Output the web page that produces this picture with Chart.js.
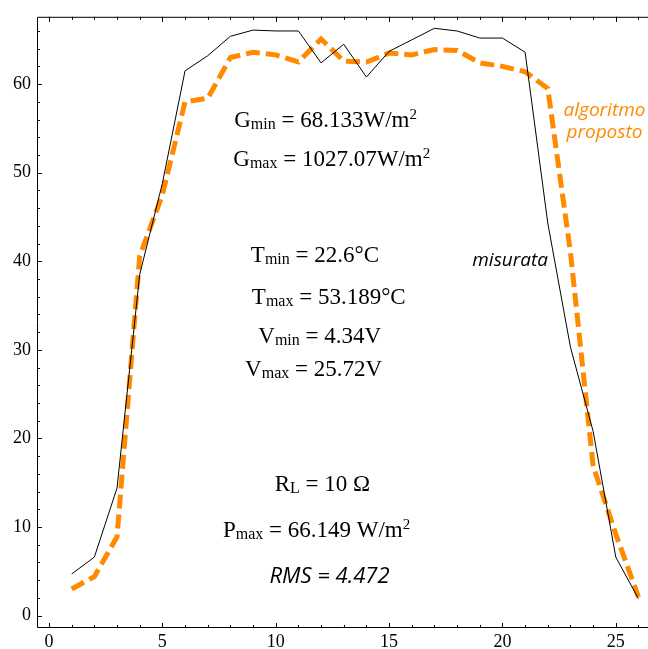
<!DOCTYPE html>
<html>
<head>
<meta charset="utf-8">
<script src="https://cdn.jsdelivr.net/npm/chart.js@4.4.1/dist/chart.umd.min.js"></script>
<style>
  html, body { margin: 0; padding: 0; background: #fff; }
  #wrap { position: relative; width: 648px; height: 649px; }
</style>
</head>
<body>
<div id="wrap"><canvas id="chart"></canvas></div>
<script>
// hourly samples: measured power vs. the proposed algorithm's estimate
const hours = [1, 2, 3, 4, 5, 6, 7, 8, 9, 10, 11, 12, 13, 14, 15, 16, 17, 18, 19, 20, 21, 22, 23, 24, 25, 26];
const misurata = [4.7, 6.6, 14.4, 38.5, 48.8, 61.5, 63.2, 65.4, 66.1, 66.0, 66.0, 62.4, 64.5, 60.8, 63.7, 65.0, 66.3, 66.0, 65.2, 65.2, 63.6, 44.3, 30.3, 20.8, 6.6, 1.9];
const proposto = [3.0, 4.4, 8.9, 40.6, 47.5, 58.0, 58.4, 63.0, 63.6, 63.3, 62.5, 65.1, 62.6, 62.5, 63.5, 63.3, 63.9, 63.8, 62.4, 62.0, 61.4, 59.5, 41.0, 16.9, 9.2, 2.1];

const xTicks = [0, 5, 10, 15, 20, 25];
const yTicks = [0, 10, 20, 30, 40, 50, 60];

const ORANGE = '#ff8a00';
const SERIF = '"Liberation Serif", "Times New Roman", serif';
const SANS = '"Open Sans", "Noto Sans", sans-serif';

const big = '23px ' + SERIF;
const small = '16px ' + SERIF;
const sup = '15px ' + SERIF;

// text blocks drawn inside the plot, anchored in data units (centre x, baseline y)
const notes = [
  { x: 12.2, y: 55.2, runs: [['G', big], ['min', small, 2], [' = 68.133W/m', big], ['2', sup, -8]] },
  { x: 12.47, y: 50.7, runs: [['G', big], ['max', small, 2], [' = 1027.07W/m', big], ['2', sup, -8]] },
  { x: 11.73, y: 39.9, runs: [['T', big], ['min', small, 2], [' = 22.6°C', big]] },
  { x: 12.34, y: 35.2, runs: [['T', big], ['max', small, 2], [' = 53.189°C', big]] },
  { x: 11.94, y: 30.75, runs: [['V', big], ['min', small, 2], [' = 4.34V', big]] },
  { x: 11.67, y: 27.0, runs: [['V', big], ['max', small, 2], [' = 25.72V', big]] },
  { x: 12.06, y: 14.05, runs: [['R', big], ['L', small, 2], [' = 10 Ω', big]] },
  { x: 11.8, y: 8.9, runs: [['P', big], ['max', small, 2], [' = 66.149 W/m', big], ['2', sup, -8]] },
  { x: 12.37, y: 3.67, runs: [['RMS = 4.472', 'italic 22px ' + SANS]] },
  { x: 20.34, y: 39.5, runs: [['misurata', 'italic 19px ' + SANS]] },
  { x: 24.5, y: 56.4, color: ORANGE, runs: [['algoritmo', 'italic 19px ' + SANS]] },
  { x: 24.5, y: 53.9, color: ORANGE, runs: [['proposto', 'italic 19px ' + SANS]] }
];

function drawRuns(ctx, runs, cx, cy) {
  let total = 0;
  const widths = runs.map(([t, font]) => {
    ctx.font = font;
    const w = ctx.measureText(t).width;
    total += w;
    return w;
  });
  let px = cx - total / 2;
  runs.forEach(([t, font, dy], i) => {
    ctx.font = font;
    ctx.fillText(t, px, cy + (dy || 0));
    px += widths[i];
  });
}

// Mathematica-style frame: left/top/bottom edges with inward major and minor ticks
const frame = {
  id: 'frame',
  afterDatasetsDraw(chart) {
    const { ctx, chartArea: a, scales: { x, y } } = chart;
    ctx.save();
    ctx.strokeStyle = '#000';
    ctx.lineWidth = 1;
    ctx.beginPath();
    ctx.moveTo(a.right, a.top + 0.5);
    ctx.lineTo(a.left + 0.5, a.top + 0.5);
    ctx.lineTo(a.left + 0.5, a.bottom - 0.5);
    ctx.lineTo(a.right, a.bottom - 0.5);
    for (let v = 0; v <= 26; v++) {
      const px = Math.round(x.getPixelForValue(v)) + 0.5;
      const len = v % 5 === 0 ? 5 : 3;
      ctx.moveTo(px, a.bottom);
      ctx.lineTo(px, a.bottom - len);
      ctx.moveTo(px, a.top);
      ctx.lineTo(px, a.top + len);
    }
    for (let v = 0; v <= 66; v += 2) {
      const py = Math.round(y.getPixelForValue(v)) + 0.5;
      const len = v % 10 === 0 ? 5 : 3;
      ctx.moveTo(a.left, py);
      ctx.lineTo(a.left + len, py);
    }
    ctx.stroke();
    ctx.restore();
  },
  afterDraw(chart) {
    const { ctx, scales: { x, y } } = chart;
    ctx.save();
    ctx.textBaseline = 'alphabetic';
    ctx.textAlign = 'left';
    notes.forEach(n => {
      ctx.fillStyle = n.color || '#000';
      drawRuns(ctx, n.runs, x.getPixelForValue(n.x), y.getPixelForValue(n.y));
    });
    ctx.restore();
  }
};

new Chart(document.getElementById('chart'), {
  type: 'line',
  data: {
    datasets: [
      {
        label: 'misurata',
        data: hours.map((h, i) => ({ x: h, y: misurata[i] })),
        borderColor: '#000',
        borderWidth: 1,
        pointRadius: 0,
        tension: 0,
        fill: false
      },
      {
        label: 'algoritmo proposto',
        data: hours.map((h, i) => ({ x: h, y: proposto[i] })),
        borderColor: ORANGE,
        borderWidth: 5,
        borderDash: [14, 6],
        borderCapStyle: 'butt',
        pointRadius: 0,
        tension: 0,
        fill: false
      }
    ]
  },
  options: {
    responsive: true,
    maintainAspectRatio: false,
    animation: false,
    layout: { padding: { top: 13, right: 0, left: 0, bottom: 0 } },
    plugins: { legend: { display: false }, tooltip: { enabled: false } },
    scales: {
      x: {
        type: 'linear',
        min: -0.53,
        max: 26.42,
        grid: { display: false, tickLength: 0 },
        border: { display: false },
        afterBuildTicks: s => { s.ticks = xTicks.map(v => ({ value: v })); },
        afterFit: s => { s.height = 21; },
        ticks: {
          autoSkip: false,
          maxRotation: 0,
          padding: 3,
          color: '#000',
          font: { family: SERIF, size: 18 }
        }
      },
      y: {
        type: 'linear',
        min: -1.4,
        max: 67.6,
        grid: { display: false, tickLength: 0 },
        border: { display: false },
        afterBuildTicks: s => { s.ticks = yTicks.map(v => ({ value: v })); },
        afterFit: s => { s.width = 37; },
        ticks: {
          padding: 6,
          color: '#000',
          font: { family: SERIF, size: 18 }
        }
      }
    }
  },
  plugins: [frame]
});
</script>
</body>
</html>
